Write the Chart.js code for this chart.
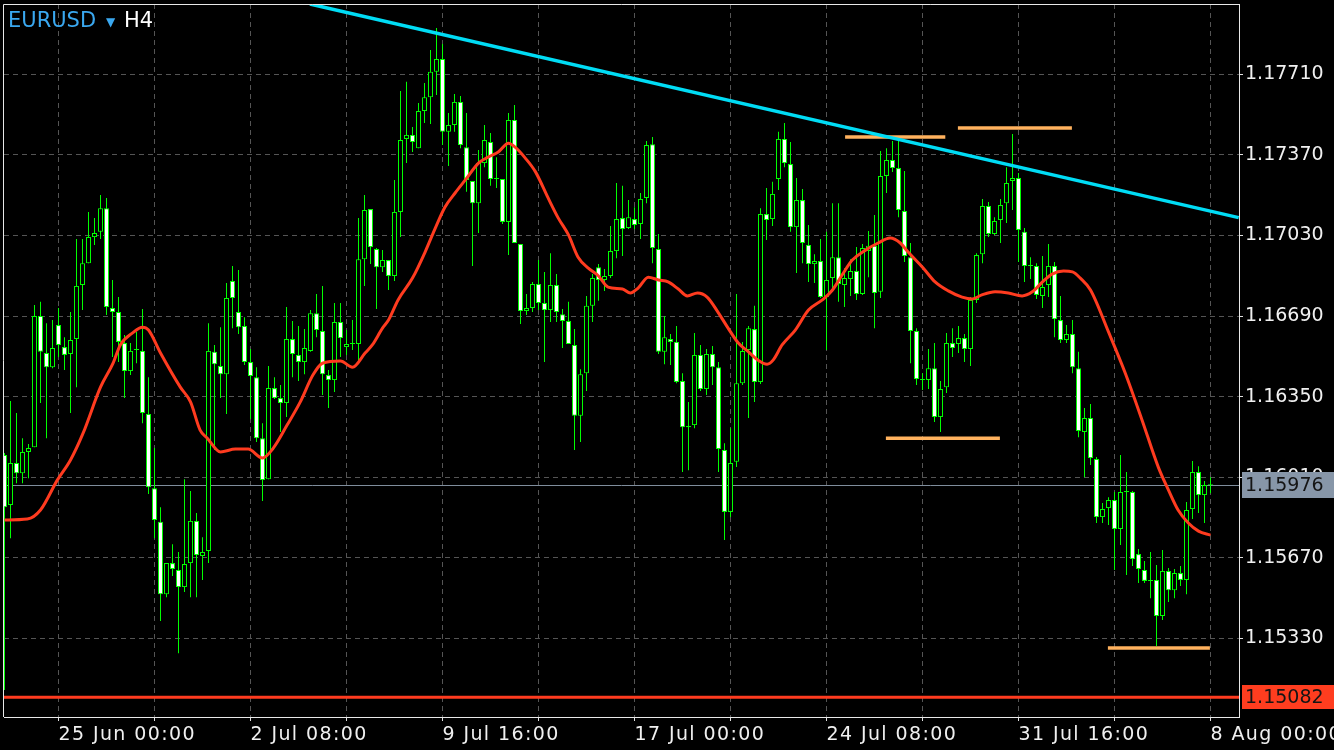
<!DOCTYPE html>
<html>
<head>
<meta charset="utf-8">
<title>EURUSD H4</title>
<script src="https://cdn.jsdelivr.net/npm/chart.js@4.4.1/dist/chart.umd.min.js"></script>
<style>
  html, body { margin: 0; padding: 0; background: #000; }
  canvas { display: block; }
</style>
</head>
<body>
<canvas id="chart" width="1334" height="750"></canvas>
<script>
// ── Candles (H4, one entry per bar) ─────────────────
const opens = [
    1.16104, 1.15893, 1.16070, 1.16027, 1.16117, 1.16137, 1.16690, 1.16534, 1.16474, 1.16652,
    1.16559, 1.16530, 1.16593, 1.16821, 1.16913, 1.17023, 1.17045, 1.17145, 1.16724, 1.16707,
    1.16576, 1.16458, 1.16547, 1.16543, 1.16277, 1.15964, 1.15822, 1.15517, 1.15648, 1.15619,
    1.15547, 1.15648, 1.15826, 1.15678, 1.15699, 1.16539, 1.16479, 1.16445, 1.16838, 1.16707,
    1.16648, 1.16496, 1.16432, 1.16175, 1.16002, 1.16386, 1.16344, 1.16323, 1.16593, 1.16526,
    1.16496, 1.16543, 1.16702, 1.16627, 1.16441, 1.16420, 1.16665, 1.16559, 1.16572, 1.16572,
    1.16930, 1.17141, 1.16973, 1.16896, 1.16926, 1.16859, 1.17129, 1.17437, 1.17454, 1.17398,
    1.17555, 1.17613, 1.17720, 1.17774, 1.17467, 1.17496, 1.17593, 1.17402, 1.17260, 1.17166,
    1.17335, 1.17424, 1.17268, 1.17268, 1.17087, 1.17517, 1.16994, 1.16711, 1.16724, 1.16825,
    1.16745, 1.16715, 1.16821, 1.16698, 1.16669, 1.16568, 1.16269, 1.16449, 1.16733, 1.16896,
    1.16842, 1.16859, 1.16964, 1.17103, 1.17061, 1.17099, 1.17078, 1.17188, 1.17415, 1.16973,
    1.16539, 1.16593, 1.16581, 1.16416, 1.16221, 1.16230, 1.16526, 1.16382, 1.16530, 1.16474,
    1.16125, 1.15864, 1.16075, 1.16407, 1.16547, 1.16635, 1.16412, 1.17120, 1.17099, 1.17268,
    1.17437, 1.17331, 1.17065, 1.17179, 1.16990, 1.16909, 1.16922, 1.16770, 1.16850, 1.16938,
    1.16821, 1.16846, 1.16880, 1.16783, 1.16964, 1.16986, 1.16792, 1.17281, 1.17348, 1.17314,
    1.17133, 1.16938, 1.16627, 1.16420, 1.16420, 1.16470, 1.16264, 1.16390, 1.16576, 1.16572,
    1.16597, 1.16551, 1.16758, 1.16951, 1.17154, 1.17036, 1.17095, 1.17166, 1.17260, 1.17272,
    1.17045, 1.16901, 1.16901, 1.16775, 1.16821, 1.16901, 1.16673, 1.16589, 1.16614, 1.16470,
    1.16201, 1.16260, 1.16087, 1.15842, 1.15880, 1.15914, 1.15792, 1.15948, 1.15948, 1.15686,
    1.15619, 1.15573, 1.15577, 1.15425, 1.15615, 1.15534, 1.15606, 1.15577, 1.15876, 1.16032,
    1.15935, 1.15977
];
const highs = [
    1.16112, 1.16332, 1.16281, 1.16175, 1.16150, 1.16737, 1.16750, 1.16660, 1.16673, 1.16724,
    1.16601, 1.16707, 1.17015, 1.17015, 1.17129, 1.17103, 1.17201, 1.17188, 1.16842, 1.16770,
    1.16610, 1.16576, 1.16623, 1.16720, 1.16432, 1.16133, 1.15884, 1.15648, 1.15728, 1.15695,
    1.16002, 1.15952, 1.15859, 1.15757, 1.16660, 1.16568, 1.16643, 1.16829, 1.16901, 1.16884,
    1.16685, 1.16551, 1.16474, 1.16238, 1.16479, 1.16432, 1.16399, 1.16728, 1.16669, 1.16648,
    1.16635, 1.16715, 1.16783, 1.16817, 1.16462, 1.16745, 1.16745, 1.16631, 1.16673, 1.17103,
    1.17201, 1.17141, 1.16977, 1.16968, 1.16926, 1.17264, 1.17639, 1.17678, 1.17487, 1.17588,
    1.17673, 1.17812, 1.17905, 1.17837, 1.17546, 1.17626, 1.17618, 1.17546, 1.17260, 1.17390,
    1.17496, 1.17462, 1.17360, 1.17268, 1.17546, 1.17580, 1.16994, 1.16783, 1.16834, 1.16926,
    1.16876, 1.16955, 1.16867, 1.16720, 1.16750, 1.16635, 1.16466, 1.16775, 1.16867, 1.16909,
    1.16888, 1.17070, 1.17251, 1.17239, 1.17179, 1.17149, 1.17209, 1.17428, 1.17445, 1.17036,
    1.16690, 1.16614, 1.16648, 1.16449, 1.16328, 1.16618, 1.16568, 1.16551, 1.16564, 1.16496,
    1.16154, 1.16217, 1.16783, 1.16581, 1.16648, 1.16733, 1.17145, 1.17230, 1.17256, 1.17467,
    1.17504, 1.17424, 1.17272, 1.17226, 1.17074, 1.16951, 1.17015, 1.17045, 1.17166, 1.17166,
    1.16892, 1.16930, 1.16981, 1.16994, 1.17049, 1.17116, 1.17386, 1.17398, 1.17428, 1.17432,
    1.17302, 1.16998, 1.16639, 1.16449, 1.16551, 1.16576, 1.16416, 1.16618, 1.16639, 1.16648,
    1.16614, 1.16770, 1.16955, 1.17184, 1.17171, 1.17107, 1.17184, 1.17318, 1.17458, 1.17293,
    1.17061, 1.16938, 1.16913, 1.16943, 1.16994, 1.16918, 1.16775, 1.16652, 1.16673, 1.16539,
    1.16302, 1.16319, 1.16095, 1.15901, 1.15926, 1.15948, 1.16104, 1.16032, 1.15952, 1.15707,
    1.15657, 1.15695, 1.15640, 1.15703, 1.15627, 1.15623, 1.15636, 1.15906, 1.16079, 1.16057,
    1.15994, 1.16010
];
const lows = [
    1.15113, 1.15753, 1.15985, 1.15985, 1.16006, 1.16137, 1.16323, 1.16175, 1.16470, 1.16517,
    1.16462, 1.16281, 1.16390, 1.16715, 1.16913, 1.16990, 1.17015, 1.16694, 1.16517, 1.16496,
    1.16344, 1.16441, 1.16491, 1.16238, 1.15939, 1.15753, 1.15404, 1.15504, 1.15594, 1.15268,
    1.15526, 1.15504, 1.15504, 1.15577, 1.15648, 1.16125, 1.16344, 1.16277, 1.16639, 1.16614,
    1.16483, 1.16256, 1.16159, 1.15910, 1.16002, 1.16340, 1.16201, 1.16264, 1.16432, 1.16416,
    1.16445, 1.16539, 1.16601, 1.16357, 1.16302, 1.16370, 1.16517, 1.16526, 1.16547, 1.16504,
    1.16817, 1.16909, 1.16720, 1.16876, 1.16800, 1.16838, 1.17023, 1.17335, 1.17382, 1.17398,
    1.17504, 1.17500, 1.17622, 1.17411, 1.17323, 1.17467, 1.17398, 1.17214, 1.16901, 1.17040,
    1.17318, 1.17239, 1.17230, 1.17078, 1.16947, 1.16998, 1.16656, 1.16694, 1.16707, 1.16715,
    1.16496, 1.16665, 1.16665, 1.16555, 1.16572, 1.16125, 1.16159, 1.16374, 1.16665, 1.16754,
    1.16796, 1.16850, 1.16934, 1.16943, 1.17057, 1.17057, 1.17015, 1.17166, 1.16913, 1.16530,
    1.16487, 1.16483, 1.16407, 1.16032, 1.16040, 1.16217, 1.16374, 1.16357, 1.16399, 1.16032,
    1.15745, 1.15842, 1.16053, 1.16399, 1.16260, 1.16328, 1.16403, 1.17011, 1.17070, 1.17222,
    1.17318, 1.17045, 1.16871, 1.16913, 1.16834, 1.16829, 1.16766, 1.16547, 1.16808, 1.16750,
    1.16728, 1.16775, 1.16758, 1.16779, 1.16854, 1.16639, 1.16766, 1.17209, 1.17298, 1.17107,
    1.16918, 1.16491, 1.16399, 1.16378, 1.16382, 1.16243, 1.16201, 1.16365, 1.16517, 1.16534,
    1.16496, 1.16479, 1.16745, 1.16913, 1.17023, 1.17032, 1.16998, 1.17082, 1.17137, 1.16918,
    1.16834, 1.16846, 1.16762, 1.16724, 1.16770, 1.16601, 1.16576, 1.16576, 1.16449, 1.16179,
    1.16010, 1.16062, 1.15817, 1.15817, 1.15809, 1.15619, 1.15724, 1.15598, 1.15636, 1.15564,
    1.15564, 1.15500, 1.15298, 1.15408, 1.15484, 1.15500, 1.15552, 1.15517, 1.15834, 1.15859,
    1.15817, 1.15943
];
const closes = [
    1.15884, 1.16070, 1.16027, 1.16117, 1.16133, 1.16690, 1.16539, 1.16474, 1.16555, 1.16568,
    1.16526, 1.16589, 1.16817, 1.16913, 1.17023, 1.17040, 1.17145, 1.16728, 1.16707, 1.16581,
    1.16458, 1.16543, 1.16547, 1.16281, 1.15968, 1.15830, 1.15517, 1.15648, 1.15623, 1.15547,
    1.15644, 1.15826, 1.15682, 1.15695, 1.16543, 1.16487, 1.16445, 1.16766, 1.16766, 1.16643,
    1.16496, 1.16437, 1.16175, 1.15998, 1.16386, 1.16344, 1.16323, 1.16593, 1.16530, 1.16496,
    1.16555, 1.16702, 1.16631, 1.16445, 1.16420, 1.16665, 1.16597, 1.16572, 1.16572, 1.16930,
    1.17137, 1.16981, 1.16896, 1.16926, 1.16859, 1.17129, 1.17432, 1.17454, 1.17424, 1.17555,
    1.17613, 1.17720, 1.17774, 1.17467, 1.17496, 1.17593, 1.17411, 1.17264, 1.17166, 1.17335,
    1.17432, 1.17268, 1.17268, 1.17087, 1.17517, 1.16998, 1.16711, 1.16724, 1.16825, 1.16745,
    1.16715, 1.16821, 1.16707, 1.16669, 1.16572, 1.16269, 1.16445, 1.16733, 1.16850, 1.16842,
    1.16859, 1.16964, 1.17099, 1.17057, 1.17107, 1.17074, 1.17184, 1.17411, 1.16977, 1.16539,
    1.16601, 1.16581, 1.16412, 1.16221, 1.16226, 1.16526, 1.16382, 1.16530, 1.16474, 1.16129,
    1.15864, 1.16070, 1.16407, 1.16543, 1.16639, 1.16412, 1.17120, 1.17095, 1.17205, 1.17437,
    1.17335, 1.17065, 1.17179, 1.16998, 1.16909, 1.16922, 1.16770, 1.16842, 1.16938, 1.16825,
    1.16850, 1.16880, 1.16783, 1.16977, 1.16986, 1.16787, 1.17281, 1.17348, 1.17314, 1.17137,
    1.16943, 1.16627, 1.16424, 1.16420, 1.16470, 1.16264, 1.16382, 1.16576, 1.16555, 1.16597,
    1.16551, 1.16758, 1.16947, 1.17154, 1.17036, 1.17091, 1.17158, 1.17251, 1.17272, 1.17053,
    1.16901, 1.16901, 1.16779, 1.16812, 1.16901, 1.16677, 1.16589, 1.16614, 1.16474, 1.16205,
    1.16260, 1.16091, 1.15842, 1.15876, 1.15914, 1.15792, 1.15948, 1.15948, 1.15665, 1.15623,
    1.15573, 1.15573, 1.15425, 1.15615, 1.15534, 1.15606, 1.15577, 1.15872, 1.16032, 1.15935,
    1.15977, 1.15976
];

// ── Moving average (bar position + price) ──
const maBars = [
    0, 3.8, 6, 8.8, 11, 13.1, 16, 18.1, 19.3, 21.3,
    23, 24, 26, 29.3, 31, 32.6, 33.8, 36, 38.5, 40.6,
    43, 44.8, 47.1, 49.3, 51.4, 53, 56, 58, 60.1, 61.3,
    63, 64, 65.6, 68, 70.1, 71.8, 73.4, 75.1, 76.8, 79,
    80.6, 82.3, 84, 85.1, 86.8, 88.5, 90.6, 92.3, 94, 95.6,
    97.3, 99, 100.6, 103, 104.3, 105.6, 107.3, 109, 110.6, 112.3,
    113.8, 115.5, 117.1, 118.8, 120.6, 122.3, 124, 125.6, 127.1, 128.1,
    129.6, 131.8, 134, 136.3, 138, 139.6, 141.3, 143.5, 145.6, 147.6,
    149.3, 150.6, 153, 155.1, 157.3, 159.6, 161.3, 162.9, 165.1, 167.3,
    169.6, 171.3, 173, 174.6, 176.5, 178, 179.3, 181, 184, 186.8,
    189.6, 192.3, 194, 195.6, 197.3, 199, 201
];
const maValues = [
    1.15830, 1.15834, 1.15872, 1.15998, 1.16083, 1.16196, 1.16390, 1.16491, 1.16568, 1.16618,
    1.16643, 1.16631, 1.16534, 1.16390, 1.16328, 1.16209, 1.16175, 1.16117, 1.16129, 1.16129,
    1.16091, 1.16133, 1.16230, 1.16328, 1.16441, 1.16491, 1.16500, 1.16474, 1.16534, 1.16568,
    1.16639, 1.16673, 1.16758, 1.16850, 1.16960, 1.17061, 1.17149, 1.17209, 1.17264, 1.17335,
    1.17360, 1.17382, 1.17419, 1.17402, 1.17356, 1.17298, 1.17188, 1.17103, 1.17032, 1.16938,
    1.16892, 1.16859, 1.16812, 1.16804, 1.16787, 1.16808, 1.16854, 1.16842, 1.16834, 1.16804,
    1.16775, 1.16787, 1.16770, 1.16711, 1.16639, 1.16576, 1.16539, 1.16504, 1.16487, 1.16504,
    1.16568, 1.16631, 1.16715, 1.16758, 1.16800, 1.16863, 1.16926, 1.16968, 1.16998, 1.17019,
    1.16998, 1.16960, 1.16896, 1.16834, 1.16796, 1.16770, 1.16762, 1.16779, 1.16792, 1.16787,
    1.16775, 1.16792, 1.16834, 1.16867, 1.16880, 1.16876, 1.16850, 1.16800, 1.16623, 1.16449,
    1.16251, 1.16053, 1.15956, 1.15872, 1.15817, 1.15783, 1.15766
];

// ── Axes ───────────────────────────────────────────
const priceTicks = [1.15330, 1.15670, 1.16010, 1.16350, 1.16690, 1.17030, 1.17370, 1.17710];
const gridBars = [9, 25, 41, 57, 73, 89, 105, 121, 137, 153, 169, 185, 201];
const timeBars = [9, 41, 73, 105, 137, 169, 201];
const timeLabels = ['25 Jun 00:00', '2 Jul 08:00', '9 Jul 16:00', '17 Jul 00:00', '24 Jul 08:00', '31 Jul 16:00', '8 Aug 00:00'];

// ── Drawn objects ──────────────────────────────────
const trendBars = [50.9, 205.7];
const trendPrices = [1.18006, 1.17105];
const levelPrices = [1.17445, 1.17483, 1.16175, 1.15290];
const levelFrom = [140.1, 158.9, 146.9, 183.9];
const levelTo = [156.8, 177.9, 165.9, 200.9];
const bidPrice = 1.15976;
const stopPrice = 1.15082;

const GREEN = '#00ff00';
const FONT = "'DejaVu Sans', sans-serif";
Chart.defaults.font.family = FONT;

const bars = opens.map((o, i) => i);
const wickData = bars.map(i => ({ x: i, y: [lows[i], highs[i]] }));
const bodyData = bars.map(i => ({ x: i, y: [opens[i], closes[i]] }));
const maData = maBars.map((b, i) => ({ x: b, y: maValues[i] }));
const trendData = trendBars.map((b, i) => ({ x: b, y: trendPrices[i] }));

const levelSets = levelPrices.map((p, k) => ({
    type: 'line',
    label: 'Level ' + (k + 1),
    data: [{ x: levelFrom[k], y: p }, { x: levelTo[k], y: p }],
    borderColor: '#ffb25e',
    borderWidth: 3.5,
    pointRadius: 0,
    order: 0,
}));

// ── Plugins ────────────────────────────────────────
const backdrop = {
    id: 'backdrop',
    beforeDraw(chart) {
        const ctx = chart.ctx;
        ctx.save();
        ctx.fillStyle = '#000';
        ctx.fillRect(0, 0, chart.width, chart.height);
        ctx.restore();

        // the time labels on the terminal are tracked a little wider
        const xs = chart.scales.x;
        if (!xs._tracked) {
            const draw = xs.drawLabels.bind(xs);
            xs.drawLabels = area => {
                ctx.save();
                ctx.letterSpacing = '1.4px';
                draw(area);
                ctx.restore();
            };
            xs._tracked = true;
        }
    }
};

const priceLines = {
    id: 'priceLines',
    beforeDatasetsDraw(chart) {
        const { ctx, chartArea: a, scales: { y } } = chart;
        ctx.save();
        ctx.strokeStyle = '#7f8d9c';
        ctx.lineWidth = 1;
        const yb = Math.round(y.getPixelForValue(bidPrice)) + 0.5;
        ctx.beginPath();
        ctx.moveTo(a.left, yb);
        ctx.lineTo(a.right, yb);
        ctx.stroke();
        ctx.restore();
    },
    afterDatasetsDraw(chart) {
        const { ctx, chartArea: a, scales: { y } } = chart;
        ctx.save();
        ctx.strokeStyle = '#ff3b1f';
        ctx.lineWidth = 3;
        const ys = y.getPixelForValue(stopPrice);
        ctx.beginPath();
        ctx.moveTo(a.left, ys);
        ctx.lineTo(a.right, ys);
        ctx.stroke();
        ctx.restore();
    },
    afterDraw(chart) {
        const { ctx, chartArea: a, scales: { y } } = chart;
        const tag = (price, fill, h) => {
            const py = y.getPixelForValue(price);
            ctx.fillStyle = fill;
            ctx.fillRect(a.right + 3, Math.round(py - h / 2), chart.width - a.right - 3, h);
            ctx.fillStyle = '#151515';
            ctx.font = '19px ' + FONT;
            ctx.textBaseline = 'middle';
            ctx.textAlign = 'left';
            ctx.fillText(price.toFixed(5), a.right + 6, py + 1);
        };
        ctx.save();
        tag(bidPrice, '#8796a8', 26);
        tag(stopPrice, '#ff3d1f', 24);

        // frame on the two sides the axes do not draw
        ctx.strokeStyle = '#e8e8e8';
        ctx.lineWidth = 1;
        ctx.beginPath();
        ctx.moveTo(a.left - 0.5, a.bottom);
        ctx.lineTo(a.left - 0.5, a.top + 0.5);
        ctx.lineTo(a.right, a.top + 0.5);
        ctx.stroke();

        // symbol / timeframe
        ctx.textBaseline = 'alphabetic';
        ctx.font = '21px ' + FONT;
        ctx.fillStyle = '#3aa8f0';
        ctx.fillText('EURUSD', 8, 27);
        ctx.font = '12px ' + FONT;
        ctx.fillText('▼', 106, 26);
        ctx.font = '21px ' + FONT;
        ctx.fillStyle = '#ffffff';
        ctx.fillText('H4', 124, 27);
        ctx.restore();
    }
};

// ── Chart ──────────────────────────────────────────
const gridStyle = {
    offset: false,
    color: '#555555',
    lineWidth: 1,
    tickColor: '#e0e0e0',
    tickLength: 4,
    tickBorderDash: [],
};
const borderStyle = { display: true, color: '#e8e8e8', width: 1, dash: [5, 4] };
const tickFont = { family: FONT, size: 19 };

new Chart(document.getElementById('chart'), {
    type: 'bar',
    data: {
        datasets: [
            {
                type: 'line',
                label: 'MA',
                data: maData,
                borderColor: '#ff3b1f',
                borderWidth: 3,
                pointRadius: 0,
                cubicInterpolationMode: 'monotone',
                order: 0,
            },
            {
                type: 'line',
                label: 'Trend',
                data: trendData,
                borderColor: '#00dcf5',
                borderWidth: 3.5,
                pointRadius: 0,
                clip: 0,
                order: 0,
            },
            ...levelSets,
            {
                label: 'Body',
                data: bodyData,
                grouped: false,
                barThickness: 5,
                minBarLength: 1,
                borderWidth: 1,
                borderSkipped: false,
                inflateAmount: 0,
                borderColor: GREEN,
                backgroundColor: ctx => closes[ctx.dataIndex] < opens[ctx.dataIndex] ? '#ffffff' : '#000000',
                order: 1,
            },
            {
                label: 'Wick',
                data: wickData,
                grouped: false,
                barThickness: 1,
                borderWidth: 0,
                inflateAmount: 0,
                backgroundColor: GREEN,
                order: 2,
            }
        ]
    },
    options: {
        responsive: false,
        animation: false,
        layout: { padding: { left: 4, top: 4, right: 0, bottom: 0 } },
        plugins: {
            legend: { display: false },
            tooltip: { enabled: false },
        },
        scales: {
            x: {
                type: 'linear',
                min: -1 / 12,
                max: 205.75,
                offset: false,
                afterBuildTicks: s => { s.ticks = gridBars.map(v => ({ value: v })); },
                afterFit: s => { s.height = 33; s.paddingLeft = 0; s.paddingRight = 0; },
                ticks: {
                    align: 'start',
                    autoSkip: false,
                    maxRotation: 0,
                    padding: 3,
                    color: '#f0f0f0',
                    font: tickFont,
                    callback: v => {
                        const k = timeBars.indexOf(v);
                        return k < 0 ? '' : timeLabels[k];
                    }
                },
                grid: gridStyle,
                border: borderStyle,
            },
            y: {
                type: 'linear',
                position: 'right',
                min: 1.14999,
                max: 1.18006,
                afterBuildTicks: s => { s.ticks = priceTicks.map(v => ({ value: v })); },
                afterFit: s => { s.width = 95; s.paddingTop = 0; s.paddingBottom = 0; },
                ticks: {
                    padding: 2,
                    color: '#f0f0f0',
                    font: tickFont,
                    callback: v => v.toFixed(5)
                },
                grid: gridStyle,
                border: borderStyle,
            }
        }
    },
    plugins: [backdrop, priceLines]
});
</script>
</body>
</html>
